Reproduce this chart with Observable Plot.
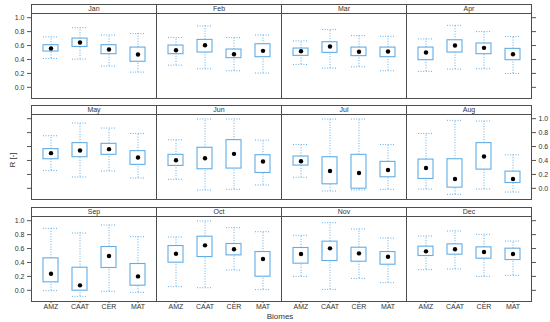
<!DOCTYPE html>
<html><head><meta charset="utf-8">
<script src="https://cdn.jsdelivr.net/npm/d3@7"></script>
<script src="https://cdn.jsdelivr.net/npm/@observablehq/plot@0.6"></script>
<style>
body{margin:0;background:#fff;}
#chart{position:relative;width:550px;height:322px;font-family:"Liberation Sans",Arial,sans-serif;color:#333;}
#chart svg{position:absolute;left:0;}
.lab{position:absolute;font-size:8px;color:#333;white-space:nowrap;}
</style></head><body><div id="chart"></div>
<script>
const months = ["Jan","Feb","Mar","Apr","May","Jun","Jul","Aug","Sep","Oct","Nov","Dec"];
const biomes = ["AMZ","CAAT","CER","MAT"];
const yTicks = [0, 0.2, 0.4, 0.6, 0.8, 1.0];

// per month: [AMZ, CAAT, CER, MAT]
const lowerWhisker = [
  [0.414, 0.405, 0.305, 0.219],
  [0.319, 0.267, 0.238, 0.205],
  [0.329, 0.276, 0.295, 0.238],
  [0.229, 0.262, 0.267, 0.200],
  [0.255, 0.163, 0.250, 0.149],
  [0.130, -0.024, -0.014, 0.048],
  [0.159, -0.038, -0.024, -0.014],
  [-0.010, -0.087, -0.010, -0.053],
  [-0.005, -0.086, -0.014, -0.029],
  [0.053, 0.038, 0.292, 0.010],
  [0.200, 0.014, 0.172, 0.110],
  [0.297, 0.306, 0.200, 0.215]
];
const q1 = [
  [0.514, 0.580, 0.476, 0.367],
  [0.476, 0.500, 0.419, 0.433],
  [0.452, 0.495, 0.448, 0.433],
  [0.390, 0.500, 0.476, 0.390],
  [0.418, 0.447, 0.481, 0.337],
  [0.322, 0.274, 0.284, 0.221],
  [0.327, 0.058, -0.005, 0.159],
  [0.135, 0.010, 0.269, 0.077],
  [0.115, -0.005, 0.321, 0.067],
  [0.397, 0.478, 0.502, 0.196],
  [0.383, 0.421, 0.411, 0.368],
  [0.493, 0.512, 0.455, 0.435]
];
const median = [
  [0.557, 0.643, 0.543, 0.471],
  [0.533, 0.605, 0.476, 0.524],
  [0.519, 0.586, 0.510, 0.514],
  [0.500, 0.600, 0.567, 0.476],
  [0.505, 0.543, 0.563, 0.442],
  [0.404, 0.433, 0.495, 0.385],
  [0.389, 0.250, 0.221, 0.264],
  [0.293, 0.135, 0.457, 0.135],
  [0.239, 0.072, 0.493, 0.200],
  [0.526, 0.646, 0.589, 0.450],
  [0.522, 0.603, 0.531, 0.483],
  [0.560, 0.589, 0.550, 0.522]
];
const q3 = [
  [0.605, 0.700, 0.605, 0.571],
  [0.600, 0.681, 0.543, 0.619],
  [0.557, 0.648, 0.571, 0.571],
  [0.571, 0.676, 0.629, 0.552],
  [0.563, 0.649, 0.639, 0.534],
  [0.481, 0.582, 0.692, 0.476],
  [0.457, 0.447, 0.481, 0.380],
  [0.413, 0.418, 0.649, 0.240],
  [0.459, 0.325, 0.622, 0.378],
  [0.636, 0.770, 0.665, 0.550],
  [0.608, 0.699, 0.612, 0.550],
  [0.627, 0.660, 0.617, 0.598]
];
const upperWhisker = [
  [0.724, 0.857, 0.752, 0.771],
  [0.714, 0.881, 0.714, 0.752],
  [0.667, 0.829, 0.743, 0.733],
  [0.695, 0.890, 0.800, 0.729],
  [0.755, 0.938, 0.865, 0.788],
  [0.697, 0.995, 0.995, 0.692],
  [0.630, 0.995, 0.995, 0.630],
  [0.788, 0.976, 0.966, 0.481],
  [0.890, 0.823, 0.938, 0.770],
  [0.766, 0.995, 0.900, 0.842],
  [0.790, 0.971, 0.880, 0.751],
  [0.780, 0.852, 0.804, 0.708]
];

const records = [];
months.forEach((m, i) => biomes.forEach((b, j) => records.push({
  month: m, biome: b,
  lower: lowerWhisker[i][j], q1: q1[i][j], median: median[i][j],
  q3: q3[i][j], upper: upperWhisker[i][j]
})));

const blue = "#62ade6";
const frameCol = "#4d4d4d";
const yMin = -0.16, yPanelTop = 1.06;
const stripPx = 9, panelPx = 85;
const yTop = yPanelTop + (yPanelTop - yMin) * stripPx / panelPx;
const fontFam = "'Liberation Sans', Arial, sans-serif";
const rowTops = [0, 101.3, 202.7];

const chart = document.getElementById("chart");

[0, 1, 2].forEach(r => {
  const ms = months.slice(r * 4, r * 4 + 4);
  const data = records.filter(d => ms.includes(d.month));
  const bottom = r === 2;
  const labelsLeft = r !== 1;
  const fmt = d => d.toFixed(1);
  const marks = [
    Plot.ruleX(data, {fx: "month", x: "biome", y1: "q3", y2: "upper", stroke: blue, strokeWidth: 1, strokeDasharray: "1,1.6"}),
    Plot.ruleX(data, {fx: "month", x: "biome", y1: "lower", y2: "q1", stroke: blue, strokeWidth: 1, strokeDasharray: "1,1.6"}),
    Plot.tickY(data, {fx: "month", x: "biome", y: "upper", stroke: blue, strokeWidth: 1, strokeDasharray: "1,1.6"}),
    Plot.tickY(data, {fx: "month", x: "biome", y: "lower", stroke: blue, strokeWidth: 1, strokeDasharray: "1,1.6"}),
    Plot.barY(data, {fx: "month", x: "biome", y1: "q1", y2: "q3", fill: "white", stroke: blue, strokeWidth: 1.1}),
    Plot.dot(data, {fx: "month", x: "biome", y: "median", r: 2.2, fill: "black", stroke: "none"}),
    Plot.ruleY([yPanelTop], {stroke: frameCol, strokeWidth: 1}),
    Plot.text(ms, {fx: d => d, text: d => d, frameAnchor: "top", dy: stripPx / 2, lineAnchor: "middle", fontSize: 7, fontWeight: "normal", fill: "#333", stroke: "none"}),
    Plot.frame({stroke: frameCol, strokeWidth: 1}),
    Plot.axisY(yTicks, {anchor: "left", tickSize: 4, tickPadding: 3, tickFormat: labelsLeft ? fmt : () => "", label: null, fontSize: 7, stroke: "#555", fill: "#333"}),
    Plot.axisY(yTicks, {anchor: "right", tickSize: 4, tickPadding: 3, tickFormat: labelsLeft ? () => "" : fmt, label: null, fontSize: 7, stroke: "#555", fill: "#333"})
  ];
  if (bottom) marks.push(Plot.axisX({anchor: "bottom", tickSize: 2, tickPadding: 1, label: null, fontSize: 7, stroke: "#555", fill: "#333"}));
  const mt = 4, mb = bottom ? 16 : 3;
  const plot = Plot.plot({
    width: 550,
    height: mt + stripPx + panelPx + mb,
    marginLeft: 29, marginRight: 18, marginTop: mt, marginBottom: mb,
    fx: {domain: ms, padding: 0, axis: null},
    x: bottom ? {type: "band", domain: biomes, paddingInner: 0.5, paddingOuter: 0.35}
              : {type: "band", domain: biomes, paddingInner: 0.5, paddingOuter: 0.35, axis: null},
    y: {domain: [yMin, yTop]},
    style: {fontFamily: fontFam, fontSize: "7px", color: "#444", background: "transparent", overflow: "visible"},
    marks
  });
  plot.style.top = rowTops[r] + "px";
  chart.appendChild(plot);
});

const ylab = document.createElement("div");
ylab.className = "lab";
ylab.textContent = "R [-]";
ylab.style.left = "12px";
ylab.style.top = "160px";
ylab.style.transform = "translate(-50%,-50%) rotate(-90deg)";
chart.appendChild(ylab);

const xlab = document.createElement("div");
xlab.className = "lab";
xlab.textContent = "Biomes";
xlab.style.left = "280px";
xlab.style.top = "316px";
xlab.style.transform = "translate(-50%,-50%)";
chart.appendChild(xlab);
</script>
</body></html>
